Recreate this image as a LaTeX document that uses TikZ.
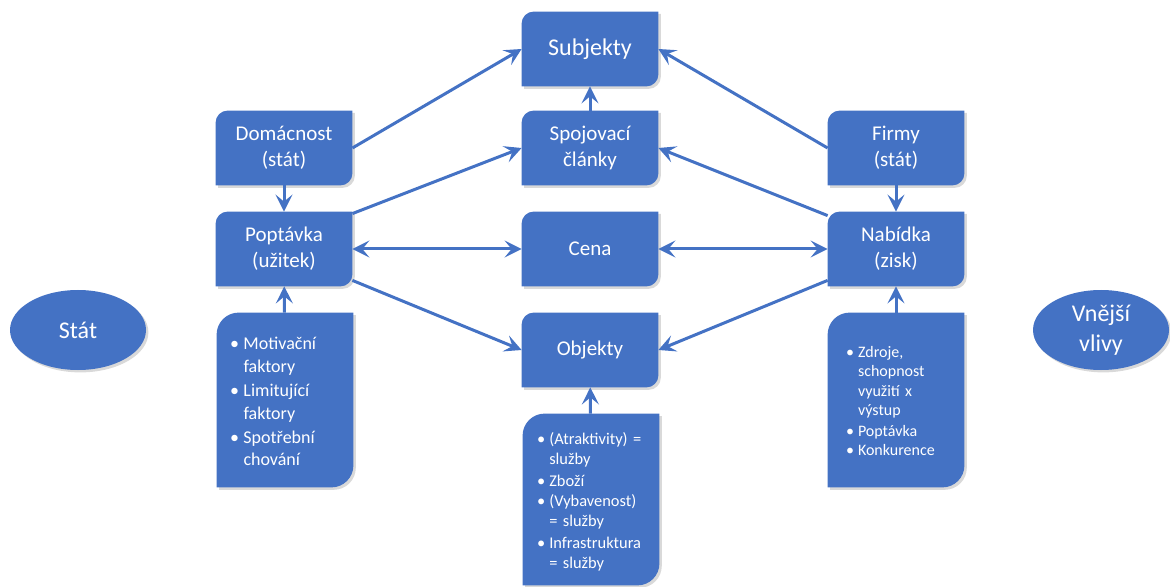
\documentclass[tikz,border=0pt]{standalone}
\usepackage{fontspec}
\setmainfont{Carlito}
\usepackage{tikz}
\usetikzlibrary{arrows.meta}
\usetikzlibrary{shapes.geometric}
\usetikzlibrary{shadows}
\usetikzlibrary{backgrounds}
\definecolor{boxblue}{HTML}{4472C4}
\tikzset{>={Stealth[length=8.5pt,width=8.5pt,inset=3.5pt]}}
\lineskip=0pt
\newcommand{\bod}[1]{\par\noindent\makebox[0.75em][l]{\textbullet}%
  \parbox[t]{\dimexpr\hsize-0.75em\relax}{\raggedright\strut #1\strut}\par}
\tikzset{
  box/.style={minimum width=68pt, minimum height=37pt, inner sep=0pt, align=center,
    text=white, font=\fontsize{10.5}{13}\selectfont},
  bullbox/.style={minimum width=68pt, minimum height=87pt, inner sep=0pt, align=left,
    text=white},
  oval/.style={ellipse, fill=boxblue, minimum width=68pt, minimum height=40pt, inner sep=0pt,
    align=center, text=white, font=\fontsize{12}{15}\selectfont,
    drop shadow={shadow xshift=1.2pt, shadow yshift=-1.2pt, opacity=0.3}},
  boxshadow/.style={drop shadow={shadow xshift=1.2pt, shadow yshift=-1.2pt, opacity=0.3}},
  link/.style={draw=boxblue, line width=1.5pt, ->},
  twoway/.style={draw=boxblue, line width=1.5pt, <->}
}
\begin{document}
\begin{tikzpicture}[x=0.5pt,y=-0.5pt]
  \useasboundingbox (0,0) rectangle (1170,587);
  % boxes
  \node[box, font=\fontsize{12}{14}\selectfont] (subj) at (590,49) {Subjekty};
  \node[box] (spoj) at (590,148) {Spojovací\\články};
  \node[box] (dom) at (284,148) {Domácnost\\(stát)};
  \node[box] (firmy) at (896,148) {Firmy\\(stát)};
  \node[box] (popt) at (284,249) {Poptávka\\(užitek)};
  \node[box] (cena) at (590,249) {Cena};
  \node[box] (nab) at (896,249) {Nabídka\\(zisk)};
  \node[box] (obj) at (590,350) {Objekty};
  \node[bullbox, text width=55pt, font=\fontsize{9}{11.2}\selectfont] (faktory) at (285,400)
    {\bod{Motivační faktory}\bod{Limitující faktory}\bod{Spotřební chování}};
  \node[bullbox, text width=54pt, minimum height=85.5pt, font=\fontsize{8.2}{10}\selectfont] (sluzby) at (591,499.5)
    {\bod{(Atraktivity) = služby}\bod{Zboží}\bod{(Vybavenost) = služby}\bod{Infrastruktura = služby}};
  \node[bullbox, text width=50pt, font=\fontsize{8}{9.6}\selectfont] (zdroje) at (896,400)
    {\bod{Zdroje, schopnost využití x výstup}\bod{Poptávka}\bod{Konkurence}};
  \node[oval] (stat) at (78,330) {Stát};
  \node[oval] (vlivy) at (1101,330) {Vnější\\vlivy};
  % box shapes
  \begin{scope}[on background layer]
    \foreach \n/\r in {subj/6pt, spoj/6pt, dom/6pt, firmy/6pt, popt/6pt, cena/6pt, nab/6pt, obj/6pt,
                       faktory/11pt, sluzby/11pt, zdroje/11pt}
      \fill[boxblue, boxshadow] ([yshift=-\r]\n.north west) arc[start angle=180, end angle=90, radius=\r]
        -- (\n.north east) -- ([yshift=\r]\n.south east) arc[start angle=0, end angle=-90, radius=\r]
        -- (\n.south west) -- cycle;
  \end{scope}
  % connectors
  \draw[link] (dom.east) -- (subj.west);
  \draw[link] (firmy.west) -- (subj.east);
  \draw[link] (spoj) -- (subj);
  \draw[link] (dom) -- (popt);
  \draw[link] (firmy) -- (nab);
  \draw[link] ([yshift=-1pt]popt.north east) -- (spoj.west);
  \draw[link] ([yshift=-2pt]nab.north west) -- (spoj.east);
  \draw[twoway] (popt.east) -- (cena.west);
  \draw[twoway] (nab.west) -- (cena.east);
  \draw[link] ([yshift=3pt]popt.south east) -- (obj.west);
  \draw[link] ([yshift=3pt]nab.south west) -- (obj.east);
  \draw[link] (faktory) -- (popt);
  \draw[link] (sluzby) -- (obj);
  \draw[link] (zdroje) -- (nab);
\end{tikzpicture}
\end{document}
